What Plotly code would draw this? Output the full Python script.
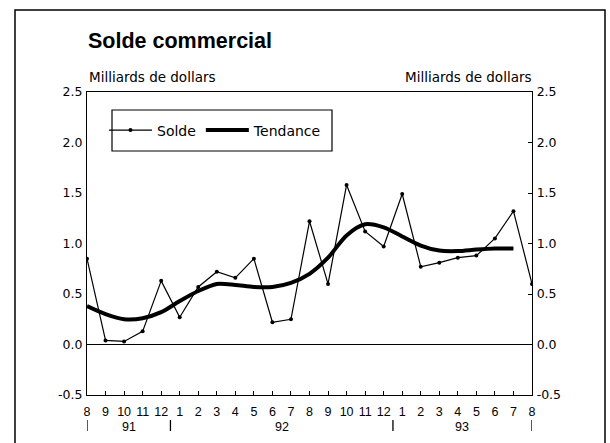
import plotly.graph_objects as go

# ---- data ----
months = ["8", "9", "10", "11", "12", "1", "2", "3", "4", "5", "6", "7",
          "8", "9", "10", "11", "12", "1", "2", "3", "4", "5", "6", "7", "8"]
solde = [0.85, 0.04, 0.03, 0.13, 0.63, 0.27, 0.57, 0.72, 0.66, 0.85, 0.22, 0.25,
         1.22, 0.60, 1.58, 1.12, 0.97, 1.49, 0.77, 0.81, 0.86, 0.88, 1.05, 1.32, 0.60]
tendance = [0.38, 0.30, 0.25, 0.26, 0.32, 0.43, 0.53, 0.60, 0.59, 0.57, 0.57, 0.61,
            0.70, 0.86, 1.08, 1.19, 1.16, 1.07, 0.98, 0.93, 0.925, 0.94, 0.95, 0.95]
years = ["91", "92", "93"]
year_bounds = [0, 4.5, 16.5, 24]   # month-index positions of the year separators
y_ticks = [-0.5, 0.0, 0.5, 1.0, 1.5, 2.0, 2.5]
y_ticktext = ["-0.5", "0.0", "0.5", "1.0", "1.5", "2.0", "2.5"]

x_idx = list(range(len(months)))

W, H = 610, 443
L, R, T, B = 87, 78, 92, 48
pw, ph = W - L - R, H - T - B


def px_x(p):
    return (p - L) / pw


def px_y(p):
    return (H - B - p) / ph


FONT = "DejaVu Sans"
XFONT = "Liberation Sans"

fig = go.Figure()
fig.add_trace(go.Scatter(
    x=x_idx, y=solde, name="Solde", mode="lines+markers",
    line=dict(color="black", width=1.2),
    marker=dict(color="black", size=4),
))
fig.add_trace(go.Scatter(
    x=x_idx[:len(tendance)], y=tendance, name="Tendance", mode="lines",
    line=dict(color="black", width=4, shape="spline", smoothing=0.8),
))
# invisible trace on the right axis so it is drawn
fig.add_trace(go.Scatter(
    x=x_idx, y=solde, yaxis="y2", mode="lines", line=dict(width=0),
    showlegend=False, hoverinfo="skip", opacity=0,
))

fig.update_layout(
    width=W, height=H,
    margin=dict(l=L, r=R, t=T, b=B),
    paper_bgcolor="white", plot_bgcolor="white",
    font=dict(family=FONT, size=12, color="black"),
    showlegend=True,
    legend=dict(
        orientation="h", x=px_x(104), y=px_y(130.5), xanchor="left", yanchor="middle",
        bgcolor="rgba(0,0,0,0)", borderwidth=0, itemwidth=43,
        font=dict(family=FONT, size=14, color="black"),
    ),
    xaxis=dict(
        range=[0, 24], tickmode="array", tickvals=x_idx, ticktext=months,
        showgrid=False, zeroline=False, showline=True, linecolor="black", linewidth=1.3,
        mirror=True, ticks="inside", ticklen=4, tickcolor="black",
        tickfont=dict(family=XFONT, size=12.5, color="black"),
        ticklabelstandoff=5, fixedrange=True,
    ),
    yaxis=dict(
        range=[-0.5, 2.5], tickmode="array", tickvals=y_ticks, ticktext=y_ticktext,
        showgrid=False, zeroline=True, zerolinecolor="black", zerolinewidth=1.3,
        showline=True, linecolor="black", linewidth=1.3, ticks="",
        tickfont=dict(family=FONT, size=12.5, color="black"), ticklabelstandoff=1,
        fixedrange=True,
    ),
    yaxis2=dict(
        range=[-0.5, 2.5], tickmode="array", tickvals=y_ticks, ticktext=y_ticktext,
        overlaying="y", side="right", showgrid=False, zeroline=False,
        showline=True, linecolor="black", linewidth=1.3,
        ticks="inside", ticklen=4, tickcolor="black",
        tickfont=dict(family=FONT, size=12.5, color="black"), ticklabelstandoff=1,
        fixedrange=True,
    ),
)

shapes = []
# outer frame
shapes.append(dict(type="rect", xref="paper", yref="paper",
                   x0=px_x(15), x1=px_x(605), y0=px_y(460), y1=px_y(10),
                   line=dict(color="black", width=1.5), fillcolor="rgba(0,0,0,0)"))
# legend box
shapes.append(dict(type="rect", xref="paper", yref="paper",
                   x0=px_x(112), x1=px_x(332), y0=px_y(151), y1=px_y(110),
                   line=dict(color="black", width=1.2), fillcolor="rgba(0,0,0,0)"))
# year separators
for b in year_bounds:
    shapes.append(dict(type="line", xref="x", yref="paper",
                       x0=b, x1=b, y0=px_y(420), y1=px_y(431),
                       line=dict(color="black", width=1.3)))
fig.update_layout(shapes=shapes)

annotations = []
annotations.append(dict(text="<b>Solde commercial</b>", xref="paper", yref="paper",
                        x=px_x(86), y=px_y(41), xanchor="left", yanchor="middle",
                        showarrow=False, font=dict(family="Liberation Sans", size=21.5, color="black")))
annotations.append(dict(text="Milliards de dollars", xref="paper", yref="paper",
                        x=px_x(87), y=px_y(77), xanchor="left", yanchor="middle",
                        showarrow=False, font=dict(family=FONT, size=13.5, color="black")))
annotations.append(dict(text="Milliards de dollars", xref="paper", yref="paper",
                        x=px_x(533), y=px_y(77), xanchor="right", yanchor="middle",
                        showarrow=False, font=dict(family=FONT, size=13.5, color="black")))
for i, yr in enumerate(years):
    annotations.append(dict(text=yr, xref="x", yref="paper",
                            x=(year_bounds[i] + year_bounds[i + 1]) / 2, y=px_y(427),
                            xanchor="center", yanchor="middle", showarrow=False,
                            font=dict(family=XFONT, size=12.5, color="black")))
fig.update_layout(annotations=annotations)

fig.write_html("out.html", config={"displayModeBar": False},
               post_script="document.body.style.margin='0px';")
